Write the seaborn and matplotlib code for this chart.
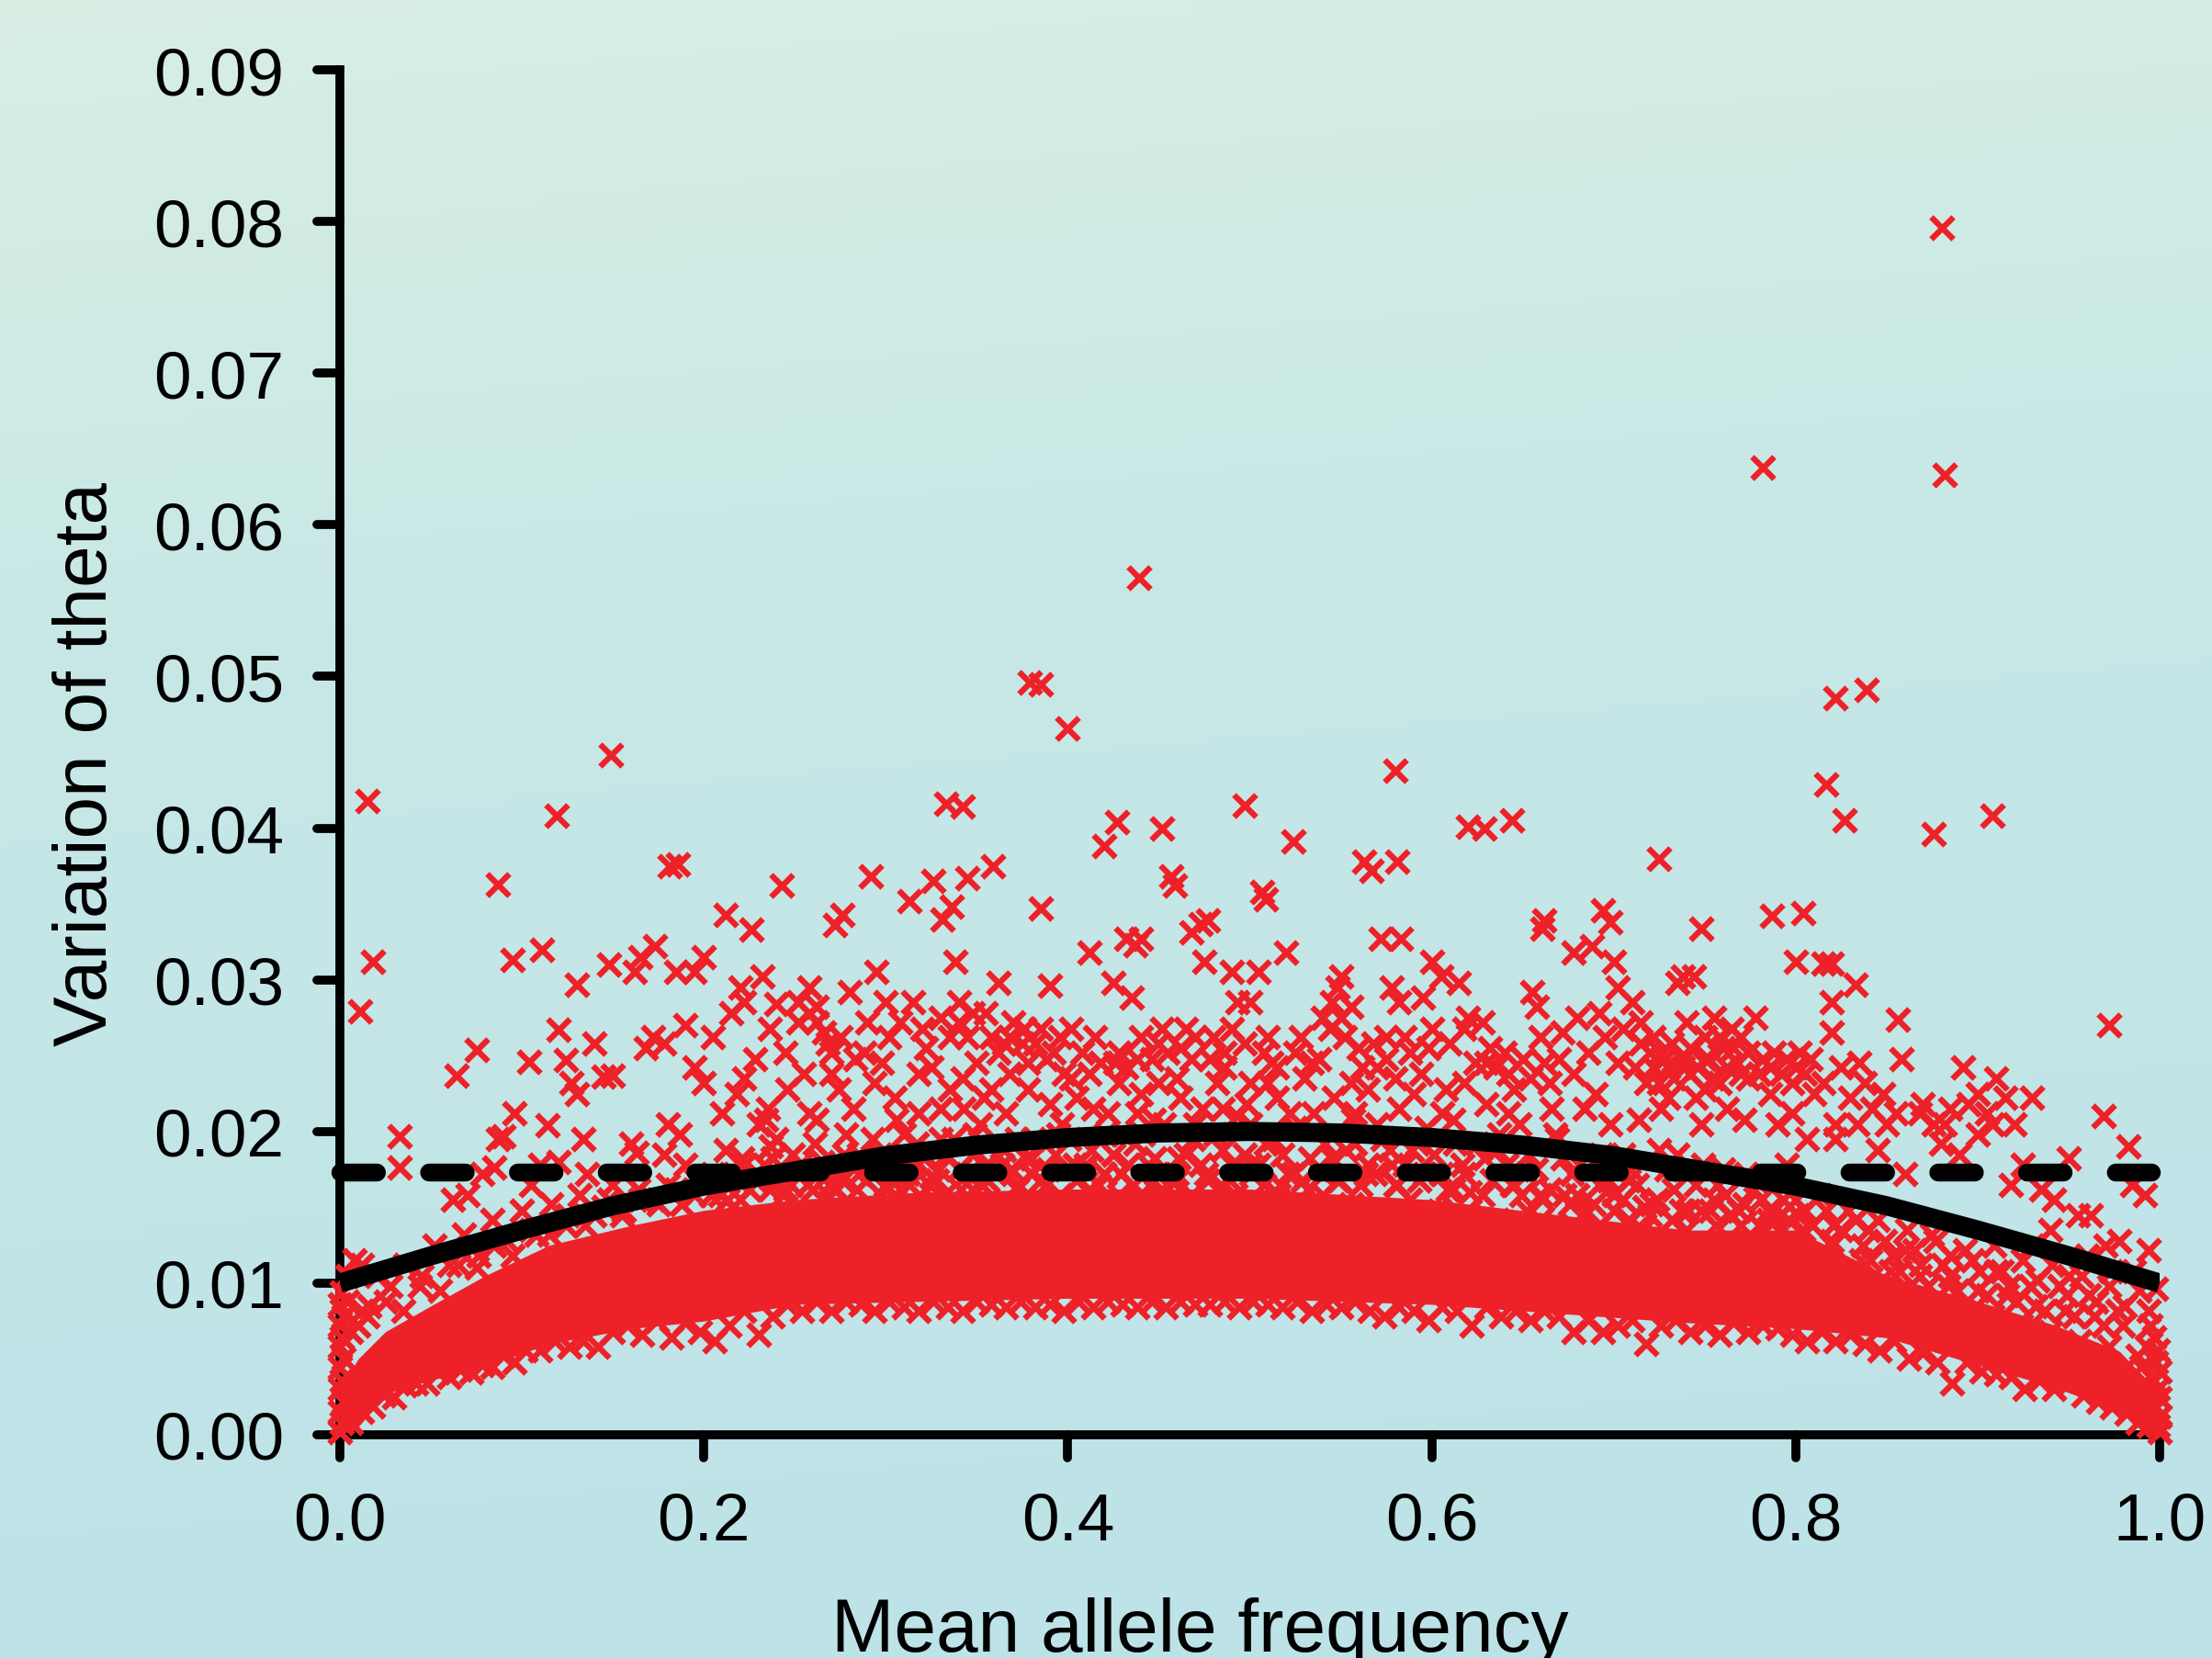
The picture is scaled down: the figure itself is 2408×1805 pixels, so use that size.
import numpy as np
import seaborn as sns
import matplotlib
matplotlib.use('Agg')
import matplotlib.pyplot as plt
from matplotlib.colors import LinearSegmentedColormap
from matplotlib.markers import MarkerStyle

RED = '#EE2128'

x_ticks = [0.0, 0.2, 0.4, 0.6, 0.8, 1.0]
y_ticks = [0.00, 0.01, 0.02, 0.03, 0.04, 0.05, 0.06, 0.07, 0.08, 0.09]

# fitted curve and the flat dashed line
curve_x = [0, .05, .1, .15, .2, .25, .3, .35, .4, .45, .5, .55, .6, .65, .7, .75, .8, .85, .9, .95, 1]
curve_y = [.0100, .0118, .0135, .0151, .0164, .0174, .0184, .0191, .0196, .0199, .0200, .0199, .0196,
           .0191, .0184, .0174, .0164, .0151, .0135, .0118, .0100]
flat_x = [0, .9955]
flat_y = [.0173, .0173]

# the crosses overlap into solid red here and cannot be read one by one,
# so the mass is drawn from its outline
mass_x = [0, .01, .025, .05, .08, .115, .16, .2, .25, .32, .4, .5, .6, .67, .74, .8, .85, .9, .943, .978, 1]
mass_low = [0, .0005, .0027, .0036, .0045, .0060, .0070, .0075, .0086, .0088, .0090, .0090, .0086, .0080,
            .0074, .0070, .0064, .0046, .0031, .0015, 0]
mass_high = [.003, .0050, .0068, .0085, .0105, .0125, .0138, .0148, .0155, .0160, .0162, .0162, .0155,
             .0145, .0135, .0135, .0105, .0088, .0072, .0055, .0027]

# x, y pairs one after another
outlier_xy = [.8805, .0796, .882, .0633, .782, .0638, .439, .0565, .379, .0496, .385, .0495, .4, .0466,
              .149, .0448, .015, .0418, .119, .0408, .58, .0438, .497, .0415, .524, .0391, .452, .040,
              .427, .0404, .42, .0388, .333, .0416, .342, .0414, .822, .0486, .839, .0491, .817, .0429,
              .827, .0405, .876, .0396, .908, .0408, .725, .038, .62, .0401, .629, .0400, .644, .0405,
              .563, .0378, .567, .0372, .581, .0378, .011, .0279, .018, .0312, .087, .0363, .181, .0375,
              .243, .0362, .292, .0368, .359, .0375, .345, .0367, .326, .0365, .331, .034, .336, .0348,
              .507, .0358, .509, .0353, .457, .0368, .459, .0362, .385, .0347, .313, .0352, .276, .0343,
              .272, .0336, .212, .0343, .226, .0333, .972, .027, .969, .021, .983, .019, .748, .0334,
              .694, .0346, .698, .0338, .787, .0342, .804, .0344, .80, .0312, .815, .0311, .82, .0311,
              .662, .0339, .661, .0334, .833, .0297, .82, .0285, .82, .0265, .856, .0274, .44, .0327,
              .432, .0327, .437, .0323, .477, .0339, .473, .0337, .468, .0331, .572, .0327, .583, .0327,
              .24, .0284, .186, .0376]

sparse_xy = [.033, .0197, .033, .0176, .064, .0237, .075, .0254, .095, .0313, .111, .032, .104, .0246,
             .087, .0195, .09, .0197, .078, .0172, .096, .0212, .12, .0267, .13, .0297, .14, .0258,
             .124, .0247, .127, .0232, .13, .0225, .114, .0204, .12, .018, .134, .0195, .148, .031,
             .162, .0305, .165, .0315, .173, .0322, .185, .0305, .195, .0305, .2, .0315, .19, .027,
             .15, .0237, .145, .0236, .172, .0262, .178, .0258, .168, .0255, .16, .0192, .163, .0186,
             .18, .0205, .187, .0198, .195, .0242, .2, .0232, .205, .0262, .178, .0185, .19, .0178,
             .062, .0155, .07, .0158, .085, .0176, .105, .0165, .11, .0178, .136, .0172, .15, .0165,
             .215, .0278, .22, .0295, .222, .0285, .232, .0302, .236, .0268, .228, .0248, .218, .0225,
             .235, .0215, .24, .0195, .23, .0205, .212, .0188, .222, .0178, .238, .0182, .248, .0165,
             .245, .0252, .252, .0272, .258, .0295, .262, .0282, .266, .0265, .255, .0238, .27, .0252,
             .274, .0228, .262, .0208, .278, .0198, .285, .0185, .268, .0172, .28, .0292, .29, .0272,
             .295, .0305, .298, .0245, .302, .0262, .288, .0252, .305, .0222, .31, .0198, .296, .0178,
             .315, .0285, .32, .0268, .325, .0242, .33, .0275, .318, .0212, .335, .0228, .33, .0195,
             .312, .0172, .328, .0168, .338, .0312, .34, .0285, .345, .0262, .35, .0245, .355, .0278,
             .343, .0215, .352, .0205, .348, .0185, .358, .0228, .362, .0298, .365, .0258, .37, .0272,
             .368, .0238, .375, .0258, .378, .0228, .372, .0195, .36, .0172, .38, .0182, .385, .0268,
             .39, .0296, .392, .0252, .398, .0238, .402, .0268, .405, .0222, .395, .0198, .41, .0178,
             .412, .0318, .415, .0262, .418, .0245, .422, .0212, .428, .0232, .43, .0198, .42, .0172,
             .425, .0298, .435, .0288, .438, .0248, .44, .0225, .447, .0208, .45, .0258, .455, .0252,
             .46, .0235, .448, .0182, .46, .0172, .465, .0268, .47, .0262, .475, .0312, .478, .0248,
             .482, .0232, .47, .0205, .485, .0215, .49, .0305, .493, .0285, .497, .0258, .5, .0232,
             .49, .0178, .505, .0305, .51, .0262, .512, .0245, .515, .0222, .5, .0205, .52, .0318,
             .525, .0252, .53, .0235, .518, .0185, .535, .0212, .54, .0275, .545, .0285, .548, .0295,
             .55, .0302, .552, .0262, .556, .0232, .54, .0172, .56, .0255, .565, .0228, .57, .0205,
             .558, .0192, .575, .0262, .578, .0295, .58, .0235, .585, .0262, .59, .0225, .578, .0178,
             .595, .0288, .598, .0255, .6, .0312, .605, .0302, .608, .0228, .592, .0192, .612, .0208,
             .615, .0298, .62, .0275, .624, .0245, .628, .0272, .63, .0218, .618, .0172, .635, .0242,
             .64, .0252, .645, .0228, .648, .0205, .636, .0188, .655, .0292, .658, .0282, .662, .0245,
             .665, .0232, .652, .0172, .668, .0198, .672, .0265, .678, .0318, .68, .0275, .684, .0215,
             .672, .0182, .688, .0322, .692, .0278, .695, .0262, .7, .0312, .702, .0295, .698, .0205,
             .692, .0165, .705, .0185, .71, .0285, .715, .0258, .712, .0242, .718, .0232, .708, .0168,
             .72, .0252, .722, .0242, .725, .0232, .728, .0248, .73, .0222, .732, .0258, .735, .0298,
             .738, .0302, .74, .0272, .742, .0238, .745, .0222, .748, .0205, .744, .0302, .735, .0185,
             .75, .0262, .752, .0248, .755, .0275, .758, .0232, .76, .0255, .765, .0268, .768, .0245,
             .77, .0262, .772, .0208, .76, .0175, .778, .0275, .782, .0248, .786, .0225, .79, .0205,
             .778, .0168, .795, .0248, .798, .0232, .802, .0252, .805, .0238, .806, .0195, .795, .0178,
             .815, .0232, .825, .0242, .83, .0222, .822, .0205, .835, .0245, .842, .0215, .85, .0205,
             .858, .0248, .855, .0212, .845, .0188, .86, .0172, .87, .0218, .876, .0205, .88, .0192,
             .885, .0215, .892, .0242, .895, .0218, .89, .0185, .9, .0198, .905, .0212, .91, .0235,
             .915, .0222, .92, .0205, .925, .0178, .93, .0222, .918, .0165, .935, .0162, .942, .0155,
             .95, .0182, .955, .0145, .94, .0135, .962, .0145, .97, .0125, .978, .0128, .985, .0165,
             .992, .0158, .994, .0122, .986, .0108, .972, .0098, .96, .0118, .95, .0105, .93, .0125,
             .91, .0108, .885, .0118, .875, .0132, .86, .0122, .84, .0135, .82, .0125, .8, .0155,
             .785, .0148, .77, .0138, .755, .0155, .72, .0145, .7, .0148, .68, .0158, .66, .0142]

# clumps in the upper cloud, around 0.025 to 0.03
clump_xy = [.252, .0285, .258, .0278, .262, .0272, .268, .0258, .275, .0262, .283, .0248, .3, .0285,
            .308, .0272, .322, .0255, .335, .0262, .34, .0272, .348, .0278, .358, .0262, .362, .0252,
            .368, .0262, .376, .0268, .382, .0258, .388, .0248, .396, .0262, .408, .0252, .412, .0238,
            .428, .0252, .432, .0242, .44, .0262, .446, .0248, .452, .0268, .462, .0255, .468, .0248,
            .48, .0262, .486, .0252, .49, .0268, .5, .0285, .508, .0252, .515, .0242, .528, .0262,
            .538, .0248, .544, .0268, .55, .0275, .556, .0282, .562, .0242, .568, .0258, .575, .0248,
            .582, .0285, .588, .0252, .6, .0268, .61, .0258, .618, .0268, .632, .0255, .642, .0238,
            .65, .0248, .66, .0262, .67, .0248, .686, .0252, .705, .0268, .715, .0272, .722, .0262,
            .726, .0252, .73, .0242, .733, .0235, .738, .0248, .742, .0255, .746, .0242, .75, .0248,
            .754, .0235, .758, .0262, .762, .0242, .766, .0255, .77, .0238, .774, .0252, .78, .0238,
            .788, .0252, .792, .0238, .8, .0242, .808, .0248, .838, .0232, .848, .0225, .868, .0212,
            .882, .0205, .9, .0225, .908, .0205]

# the crowded belt between the solid mass and the curve, and just above the curve
belt_xy = [.015, .0078, .025, .0088, .035, .0082, .045, .0105, .055, .0095, .065, .0112, .075, .011,
           .085, .0125, .095, .0118, .105, .0135, .115, .0132, .125, .0145, .135, .0138, .145, .015,
           .155, .0145, .165, .0155, .175, .0152, .185, .0162, .195, .0158, .205, .0172, .213, .0155,
           .221, .0182, .229, .0168, .237, .019, .245, .0162, .253, .0178, .261, .0192, .269, .0165,
           .277, .0185, .285, .0172, .293, .0195, .301, .0162, .309, .0182, .317, .0192, .325, .017,
           .333, .0185, .341, .0162, .349, .0198, .357, .0178, .365, .0188, .373, .0165, .381, .0195,
           .389, .0175, .397, .0205, .405, .0168, .413, .0188, .421, .0198, .429, .0172, .437, .0192,
           .445, .0165, .453, .0205, .461, .0182, .469, .0195, .477, .0168, .485, .0188, .493, .021,
           .501, .0172, .509, .0192, .517, .0165, .525, .0202, .533, .0182, .541, .0192, .549, .0168,
           .557, .0208, .565, .0178, .573, .0195, .581, .0165, .589, .0188, .597, .0202, .605, .0172,
           .613, .0192, .621, .016, .629, .0182, .637, .0198, .645, .0165, .653, .0185, .661, .0155,
           .669, .0195, .677, .0172, .685, .0148, .693, .0185, .701, .016, .709, .0175, .717, .015,
           .725, .0188, .733, .0162, .741, .0148, .749, .0178, .757, .0165, .765, .0145, .773, .0172,
           .781, .0155, .789, .0142, .797, .0168, .805, .0148, .813, .0158, .821, .0138, .829, .0148,
           .837, .0125, .845, .0142, .853, .0118, .861, .0135, .869, .0112, .877, .0128, .885, .0105,
           .893, .0122, .901, .0108, .909, .0125, .917, .0098, .925, .0115, .933, .0102, .941, .0112,
           .949, .0092, .957, .0105, .965, .0088, .973, .0108, .981, .0085, .989, .0095,
           .209, .0158, .217, .0172, .225, .0162, .233, .0178, .241, .0172, .249, .0185, .257, .0165,
           .265, .018, .273, .0162, .281, .0178, .289, .0168, .297, .0185, .305, .0175, .313, .0165,
           .321, .0182, .329, .0175, .337, .0195, .345, .0172, .353, .0165, .361, .0185, .369, .0175,
           .377, .0182, .385, .0168, .393, .0185, .401, .0195, .409, .0175, .417, .0165, .425, .0185,
           .433, .0178, .441, .0198, .449, .0172, .457, .0168, .465, .0185, .473, .0178, .481, .0198,
           .489, .0168, .497, .0185, .505, .0178, .513, .0195, .521, .0172, .529, .0168, .537, .0175,
           .545, .0182, .553, .0188, .561, .0165, .569, .0172, .577, .0188, .585, .0178, .593, .0168,
           .601, .0185, .609, .0162, .617, .0178, .625, .0192, .633, .0168, .641, .0178, .649, .0158,
           .657, .0175, .665, .0162, .673, .0158, .681, .0178, .689, .0152, .697, .0168, .705, .0155,
           .713, .0165, .721, .0152, .729, .0175, .737, .0148, .745, .0165, .753, .0148, .761, .0158,
           .769, .0148, .777, .0162, .785, .0142, .793, .0155, .801, .0145, .809, .0138, .817, .0148,
           .825, .0135, .833, .0142, .841, .0115, .849, .0128, .857, .0108, .865, .0122, .873, .0098,
           .881, .0112, .889, .0095, .897, .0115, .905, .0092, .913, .0108, .921, .0088, .929, .0098,
           .937, .0082, .945, .0098, .953, .0078, .961, .0092, .969, .0072, .977, .0082,
           .21, .0212, .222, .0235, .234, .0208, .246, .0228, .258, .0212, .27, .0238, .282, .0215,
           .294, .0232, .306, .0208, .318, .0238, .33, .0215, .342, .0235, .354, .0222, .366, .0212,
           .378, .0245, .39, .0218, .402, .0235, .414, .0215, .426, .0245, .438, .0212, .45, .0232,
           .462, .0222, .474, .0215, .486, .0242, .498, .0218, .51, .0232, .522, .0212, .534, .0245,
           .546, .0222, .558, .0212, .57, .0242, .582, .0215, .594, .0238, .606, .0212, .618, .0232,
           .63, .0245, .642, .0212, .654, .0235, .666, .0215, .678, .0238, .69, .0225, .702, .0245,
           .714, .0208, .726, .0215, .738, .0242, .75, .0228, .762, .0215, .774, .0235, .786, .0242,
           .798, .0212, .81, .0225, .822, .0195, .834, .0205]

upper_edge_xy = [.012, .0082, .02, .0105, .028, .0098, .036, .0112, .044, .0098, .052, .0125, .06, .0112,
                 .068, .0132, .076, .0118, .084, .0142, .092, .0128, .1, .0148, .108, .0132, .116, .0152,
                 .124, .0138, .132, .0158, .14, .0145, .148, .0155, .156, .0148, .164, .0162, .172, .0155,
                 .18, .0165, .188, .0152, .196, .0168, .204, .0158, .212, .0165, .22, .0155, .228, .0168,
                 .236, .0162, .244, .0158, .252, .0175, .26, .0162, .268, .0158, .276, .0168, .284, .0162,
                 .292, .0175, .3, .0165, .308, .0162, .316, .0178, .324, .0165, .332, .0158, .34, .0175,
                 .348, .0162, .356, .0168, .364, .0178, .372, .0162, .38, .0172, .388, .0165, .396, .0158,
                 .404, .0178, .412, .0162, .42, .0172, .428, .0158, .436, .0165, .444, .0178, .452, .0162,
                 .46, .0168, .468, .0158, .476, .0172, .484, .0165, .492, .0158, .5, .0178, .508, .0165,
                 .516, .0158, .524, .0172, .532, .0162, .54, .0158, .548, .0168, .556, .0152, .564, .0172,
                 .572, .0148, .58, .0165, .588, .0155, .596, .0172, .604, .0148, .612, .0162, .62, .0145,
                 .628, .0158, .636, .0142, .644, .0165, .652, .0148, .66, .0158, .668, .0138, .676, .0152,
                 .684, .0145, .692, .0138, .7, .0158, .708, .0142, .716, .0135, .724, .0155, .732, .0142,
                 .74, .0135, .748, .0148, .756, .0138, .764, .0145, .772, .0152, .78, .0138, .788, .0148,
                 .796, .0142, .804, .0135, .812, .0118, .82, .0128, .828, .0102, .836, .0115, .844, .0098,
                 .852, .0108, .86, .0092, .868, .0105, .876, .0085, .884, .0098, .892, .0082, .9, .0095,
                 .908, .0078, .916, .0092, .924, .0072, .932, .0085, .94, .0068, .948, .0082, .956, .0062,
                 .964, .0078, .972, .0058, .98, .0072, .988, .0052, .994, .0082]

lower_edge_xy = [.006, .0008, .012, .0015, .018, .0019, .024, .0026, .03, .0025, .036, .0033, .042, .0034,
                 .048, .0034, .054, .0041, .06, .0038, .066, .0043, .072, .0041, .078, .0046, .084, .0045,
                 .09, .0052, .096, .0048, .102, .0056, .11, .0056, .118, .0062, .126, .0058, .134, .0062,
                 .142, .0058, .15, .0068, .158, .0072, .166, .0066, .174, .0075, .182, .0064, .19, .0074,
                 .198, .0068, .206, .0062, .214, .0072, .222, .0082, .23, .0066, .238, .0078, .246, .0086,
                 .254, .0082, .262, .0088, .27, .0082, .278, .0088, .286, .0086, .294, .0082, .302, .0088,
                 .31, .0084, .318, .0082, .326, .0088, .334, .0084, .342, .0082, .35, .0088, .358, .0086,
                 .366, .0084, .374, .0088, .382, .0084, .39, .0086, .398, .0082, .406, .0088, .414, .0084,
                 .422, .0088, .43, .0086, .438, .0084, .446, .0088, .454, .0084, .462, .0088, .47, .0086,
                 .478, .0086, .486, .0088, .494, .0084, .502, .0088, .51, .0086, .518, .0084, .526, .0088,
                 .534, .0082, .542, .0086, .55, .0084, .558, .0088, .566, .0082, .574, .0078, .582, .0084,
                 .59, .0082, .598, .0076, .606, .0084, .614, .0082, .622, .0072, .63, .0084, .638, .0078,
                 .646, .0082, .654, .0076, .662, .0082, .67, .0078, .678, .0068, .686, .0076, .694, .0068,
                 .702, .0072, .71, .0076, .718, .0060, .726, .0072, .734, .0076, .742, .0068, .75, .0072,
                 .758, .0066, .766, .0074, .774, .0068, .782, .0072, .79, .0070, .798, .0066, .806, .0062,
                 .814, .0068, .822, .0062, .83, .0066, .838, .0060, .846, .0056, .854, .0062, .862, .0050,
                 .87, .0054, .878, .0048, .886, .0034, .894, .0048, .902, .0042, .91, .0040, .918, .0038,
                 .926, .0030, .934, .0036, .942, .0030, .95, .0034, .958, .0026, .966, .0022, .974, .0018,
                 .982, .0014, .988, .0008, .994, .0006]

end_xy = [0, .0002, .001, .0008, 0, .0015, .002, .0022, 0, .003, .001, .0036, 0, .0044, .002, .005, 0, .0058,
          .001, .0064, 0, .0072, .002, .0078, 0, .0086, .001, .0094, .004, .0105, .008, .0115, .012, .0112,
          .006, .0068, .004, .0088, .01, .0072, .016, .0085, .998, .0096, 1, .0002, .999, .0006, 1, .0012,
          .998, .0018, 1, .0024, .999, .003, .997, .0036, 1, .0042, .998, .0048, .999, .0056, .997, .0064,
          .995, .0072, .993, .0058, .99, .0045, .992, .0035]

sns.set_theme(style='white')
plt.rcParams['font.family'] = ['Liberation Sans', 'DejaVu Sans']

fig = plt.figure(figsize=(24.08, 18.06), dpi=100)

# pale green to pale blue backdrop, slightly tilted
fondo = fig.add_axes([0, 0, 1, 1], zorder=-1)
yy, xx = np.mgrid[0:1:200j, 0:1:200j]
mappa = LinearSegmentedColormap.from_list('fondo', [(0, '#D8EEE3'), (.35, '#C8E8E6'), (1, '#BCE2E8')])
fondo.imshow(yy * .9 + xx * .1, cmap=mappa, vmin=0, vmax=1, aspect='auto')
fondo.axis('off')

ax = fig.add_axes([370 / 2408, 1 - 1563 / 1806, 1981 / 2408, 1486 / 1806])
ax.patch.set_alpha(0)

ax.fill_between(mass_x, mass_low, mass_high, color=RED, linewidth=0, zorder=3)
for coppie in [outlier_xy, sparse_xy, clump_xy, belt_xy, upper_edge_xy, lower_edge_xy, end_xy]:
    sns.scatterplot(x=coppie[::2], y=coppie[1::2], marker='x', s=300, color=RED, linewidth=4.6,
                    zorder=3, clip_on=False, legend=False, ax=ax)

sns.lineplot(x=curve_x, y=curve_y, color='black', linewidth=15, errorbar=None, zorder=4,
             solid_capstyle='butt', ax=ax)
sns.lineplot(x=flat_x, y=flat_y, color='black', linewidth=14, errorbar=None, zorder=4,
             linestyle=(0, (2.05, 2.92)), dash_capstyle='round', clip_on=False, ax=ax)

ax.set_xlim(0, 1)
ax.set_ylim(0, .09)
ax.set_xticks(x_ticks)
ax.set_yticks(y_ticks)
ax.set_xticklabels([f'{v:.1f}' for v in x_ticks])
ax.set_yticklabels([f'{v:.2f}' for v in y_ticks])
ax.tick_params(axis='both', direction='out', length=18, width=7, color='black', labelcolor='black',
               labelsize=52.5, bottom=True, left=True)
ax.tick_params(axis='x', pad=26)
ax.tick_params(axis='y', pad=26)
for tick in ax.xaxis.get_major_ticks() + ax.yaxis.get_major_ticks():
    tick.tick1line.set_marker(MarkerStyle(tick.tick1line.get_marker(), capstyle='round'))

sns.despine(ax=ax)
for lato in ['left', 'bottom']:
    ax.spines[lato].set_linewidth(7)
    ax.spines[lato].set_color('black')
    ax.spines[lato].set_zorder(2)

ax.set_xlabel('Mean allele frequency', fontsize=59, color='black', va='baseline')
ax.xaxis.set_label_coords(.4725, -.158)
ax.set_ylabel('Variation of theta', fontsize=59, color='black', va='center')
ax.yaxis.set_label_coords(-.139, .4916)

plt.savefig('out.png', dpi=100)
